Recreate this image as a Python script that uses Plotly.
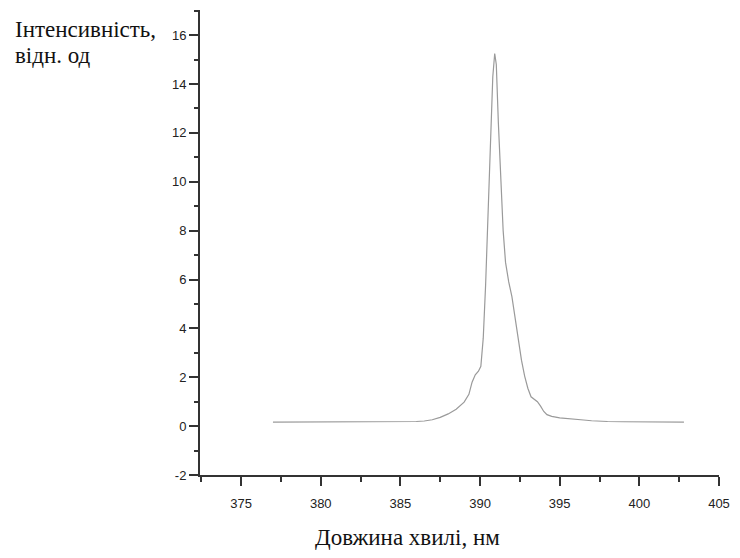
import plotly.graph_objects as go

# Emission spectrum: wavelength (nm) vs relative intensity
wavelength = [
    377.0, 378.0, 379.0, 380.0, 381.0, 382.0, 383.0, 384.0, 385.0, 385.5,
    386.0, 386.5, 387.0, 387.5, 388.0, 388.5, 389.0, 389.3, 389.5, 389.7,
    389.9, 390.05, 390.2, 390.35, 390.5, 390.65, 390.8, 390.92, 391.02, 391.15,
    391.3, 391.45, 391.6, 391.8, 392.0, 392.2, 392.4, 392.6, 392.8, 393.0,
    393.2, 393.4, 393.6, 393.8, 394.0, 394.2, 394.5, 395.0, 395.5, 396.0,
    396.5, 397.0, 397.5, 398.0, 399.0, 400.0, 401.0, 402.0, 402.8,
]
intensity = [
    0.16, 0.16, 0.16, 0.16, 0.16, 0.16, 0.17, 0.17, 0.18, 0.19,
    0.19, 0.21, 0.26, 0.36, 0.50, 0.69, 0.98, 1.30, 1.80, 2.10,
    2.25, 2.45, 3.6, 5.8, 8.6, 11.6, 14.3, 15.25, 14.8, 12.4,
    9.8, 8.0, 6.7, 5.9, 5.3, 4.4, 3.5, 2.7, 2.05, 1.55,
    1.2, 1.08, 1.0, 0.82, 0.6, 0.47, 0.40, 0.34, 0.30, 0.27,
    0.25, 0.22, 0.20, 0.19, 0.18, 0.17, 0.16, 0.16, 0.16,
]

x_ticks = [375, 380, 385, 390, 395, 400, 405]
y_ticks = [-2, 0, 2, 4, 6, 8, 10, 12, 14, 16]
y_tick_text = ["-2", "0", "2", "4", "6", "8", "10", "12", "14", "16"]

y_title_lines = ["Інтенсивність,", "відн. од"]
x_title = "Довжина хвилі, нм"

# plot area in pixels
L, R, T, B = 200, 726, 10, 475
W, H = R - L, B - T

axis_color = "#333333"
tick_font = dict(family="Liberation Sans, Arial, sans-serif", size=13, color="#222222")
title_font = dict(family="Liberation Serif", size=23, color="#111111")


def px_x(px):
    return (px - L) / W


def px_y(py):
    return (B - py) / H


fig = go.Figure()
fig.add_trace(go.Scatter(
    x=wavelength, y=intensity, mode="lines",
    line=dict(color="#9a9a9a", width=1.2),
    hoverinfo="skip", showlegend=False,
))

fig.update_layout(
    width=740, height=558,
    margin=dict(l=L, r=740 - R, t=T, b=558 - B),
    paper_bgcolor="white", plot_bgcolor="white",
    xaxis=dict(
        range=[372.42, 405], tickvals=x_ticks,
        showgrid=False, zeroline=False,
        showline=True, linecolor=axis_color, linewidth=2,
        ticks="outside", ticklen=9, tickwidth=2, tickcolor=axis_color,
        tickfont=tick_font, ticklabelstandoff=6,
        minor=dict(dtick=2.5, tick0=372.5, ticks="outside", ticklen=5,
                   tickwidth=2, tickcolor=axis_color, showgrid=False),
    ),
    yaxis=dict(
        range=[-2, 17.03], tickvals=y_ticks, ticktext=y_tick_text,
        showgrid=False, zeroline=False,
        showline=True, linecolor=axis_color, linewidth=2,
        ticks="outside", ticklen=9, tickwidth=2, tickcolor=axis_color,
        tickfont=tick_font,
        minor=dict(dtick=1, tick0=-1, ticks="outside", ticklen=4,
                   tickwidth=2, tickcolor=axis_color, showgrid=False),
    ),
    annotations=[
        dict(text=y_title_lines[0], xref="paper", yref="paper",
             x=px_x(10), y=px_y(29), xanchor="left", yanchor="middle",
             showarrow=False, font=title_font),
        dict(text=y_title_lines[1], xref="paper", yref="paper",
             x=px_x(10), y=px_y(56), xanchor="left", yanchor="middle",
             showarrow=False, font=title_font),
        dict(text=x_title, xref="paper", yref="paper",
             x=px_x(410.5), y=px_y(537), xanchor="center", yanchor="middle",
             showarrow=False, font=title_font),
    ],
)

fig.write_html("out.html")
